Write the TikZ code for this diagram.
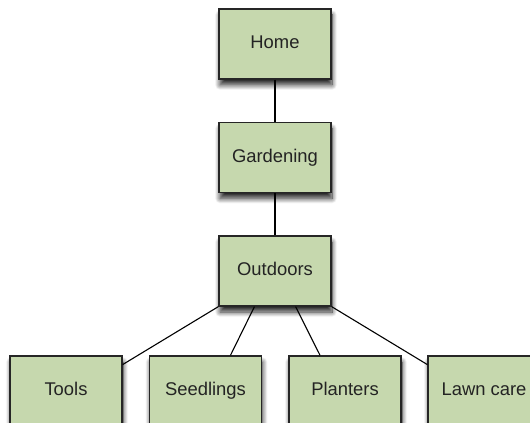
\documentclass[tikz,border=0pt]{standalone}
\usepackage[rgb]{xcolor}
\usepackage{fontspec}
\setmainfont{Liberation Sans}
\usepackage{tikz}
\usetikzlibrary{shadows.blur}

\definecolor{leaf}{RGB}{198,216,174}
\definecolor{ink}{RGB}{35,35,35}

\tikzset{
page/.style={rectangle, draw=black!85, line width=1.2bp, fill=leaf,
 minimum width=112bp, minimum height=70bp, inner sep=0pt,
 text height=13bp, text depth=4bp,
 text=ink, font=\fontsize{18.4bp}{20bp}\selectfont,
 blur shadow={shadow xshift=1bp, shadow yshift=-6bp, shadow blur radius=5bp,
  shadow blur steps=12, shadow opacity=85}},
link/.style={black, line width=1.1bp}
}

\begin{document}
\begin{tikzpicture}[x=1bp, y=1bp]

\useasboundingbox (0,0) rectangle (530,422);

% site tree, top down

\path
(275,378)   node[page] (home)      {Home}
(275,264.5) node[page] (gardening) {Gardening}
(275,151)   node[page] (outdoors)  {Outdoors};

\path
(66,31)    node[page] (tools)     {Tools}
(205.5,31) node[page] (seedlings) {Seedlings}
(345,31)   node[page] (planters)  {Planters}
(484,31)   node[page] (lawn)      {Lawn care};

\draw[link] (home) -- (gardening);
\draw[link] (gardening) -- (outdoors);

\draw[link] (outdoors.south west) -- (tools.25);
\draw[link] (outdoors.240) -- (seedlings.55);
\draw[link] (outdoors.300) -- (planters.125);
\draw[link] (outdoors.south east) -- (lawn.155);

\end{tikzpicture}
\end{document}
